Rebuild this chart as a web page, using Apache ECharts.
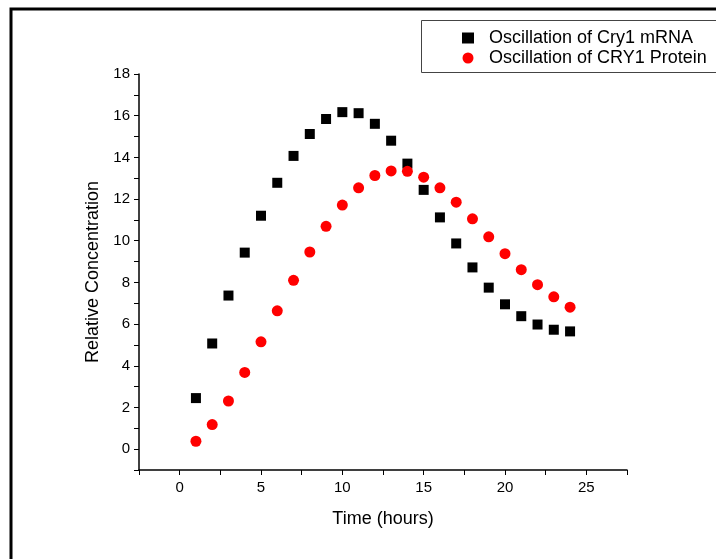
<!DOCTYPE html>
<html>
<head>
<meta charset="utf-8">
<script src="https://cdn.jsdelivr.net/npm/echarts@6/dist/echarts.min.js"></script>
<style>
  html, body { margin: 0; padding: 0; background: #fff; }
  #chart { width: 716px; height: 559px; }
</style>
</head>
<body>
<div id="chart"></div>
<script>
  var hours = [1, 2, 3, 4, 5, 6, 7, 8, 9, 10, 11, 12, 13, 14, 15, 16, 17, 18, 19, 20, 21, 22, 23, 24]
  var mrna = [2.45, 5.07, 7.37, 9.43, 11.2, 12.78, 14.07, 15.12, 15.84, 16.17, 16.12, 15.61,
    14.8, 13.7, 12.44, 11.12, 9.87, 8.72, 7.75, 6.95, 6.38, 5.98, 5.73, 5.65]
  var protein = [0.38, 1.18, 2.31, 3.68, 5.15, 6.64, 8.1, 9.46, 10.69, 11.71, 12.54, 13.13,
    13.35, 13.33, 13.05, 12.54, 11.85, 11.05, 10.19, 9.38, 8.61, 7.89, 7.31, 6.81]
  var seriesNames = ['Oscillation of Cry1 mRNA', 'Oscillation of CRY1 Protein']

  function pairs(ys) {
    var out = []
    for (var i = 0; i < hours.length; i++) {
      out.push([hours[i], ys[i]])
    }
    return out
  }

  var chart = echarts.init(document.getElementById('chart'))
  var font = 'Liberation Sans, Arial, sans-serif'
  chart.setOption({
    backgroundColor: '#fff',
    animation: false,
    textStyle: { fontFamily: font },
    grid: { left: 139, top: 74, width: 488, height: 396 },
    graphic: [
      {
        type: 'polyline',
        shape: { points: [[11, 559], [11, 9], [716, 9]] },
        style: { stroke: '#000', lineWidth: 3, fill: null }
      },
      {
        type: 'rect',
        shape: { x: 421.5, y: 20.5, width: 320, height: 52 },
        style: { stroke: '#444', lineWidth: 1, fill: '#fff' },
        z: 0
      }
    ],
    legend: {
      orient: 'vertical',
      left: 457,
      top: 24,
      itemGap: 2,
      itemWidth: 12,
      itemHeight: 11,
      textStyle: { fontSize: 18, color: '#000', fontFamily: font, padding: [0, 0, 0, 10] },
      data: [
        { name: seriesNames[0], icon: 'rect' },
        { name: seriesNames[1], icon: 'circle' }
      ],
      z: 5
    },
    xAxis: {
      type: 'value',
      min: -2.5,
      max: 27.5,
      interval: 2.5,
      name: 'Time (hours)',
      nameLocation: 'middle',
      nameGap: 40,
      nameTextStyle: { fontSize: 18, color: '#000', fontFamily: font },
      axisLine: { onZero: false, lineStyle: { color: '#000', width: 1.5 } },
      axisTick: { inside: false, length: 5, lineStyle: { color: '#000' } },
      axisLabel: {
        margin: 10,
        fontSize: 15,
        color: '#000',
        fontFamily: font,
        formatter: function (v) { return v % 5 === 0 ? String(v) : '' }
      },
      splitLine: { show: false }
    },
    yAxis: {
      type: 'value',
      min: -1,
      max: 18,
      interval: 1,
      name: 'Relative Concentration',
      nameLocation: 'middle',
      nameGap: 37,
      nameTextStyle: { fontSize: 18, color: '#000', fontFamily: font },
      axisLine: { show: true, onZero: false, lineStyle: { color: '#000', width: 1.5 } },
      axisTick: { show: true, inside: false, length: 5, lineStyle: { color: '#000' } },
      axisLabel: {
        margin: 9,
        fontSize: 15,
        color: '#000',
        fontFamily: font,
        formatter: function (v) { return v % 2 === 0 ? String(v) : '' }
      },
      splitLine: { show: false }
    },
    series: [
      {
        name: seriesNames[0],
        type: 'scatter',
        symbol: 'rect',
        symbolSize: 10,
        itemStyle: { color: '#000', opacity: 1 },
        data: pairs(mrna)
      },
      {
        name: seriesNames[1],
        type: 'scatter',
        symbol: 'circle',
        symbolSize: 11,
        itemStyle: { color: '#ff0000', opacity: 1 },
        data: pairs(protein)
      }
    ]
  })
</script>
</body>
</html>
